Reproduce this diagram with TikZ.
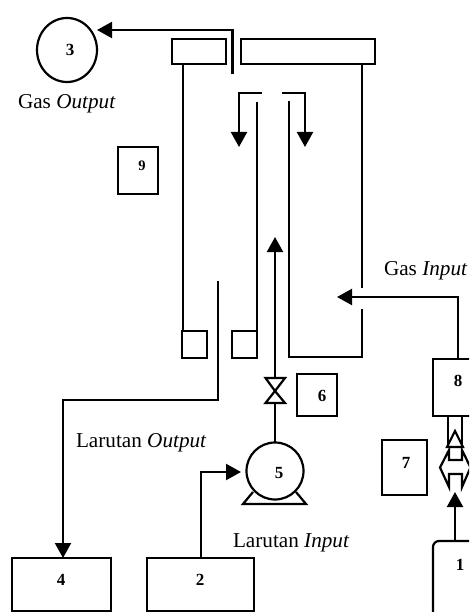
\documentclass[tikz,border=0pt]{standalone}
\usepackage{fontspec}
\setmainfont{Liberation Serif}
\usetikzlibrary{arrows.meta,shapes.geometric,calc}
\tikzset{
  every node/.style={outer sep=0pt,inner sep=0pt},
  ln/.style={line width=2.2pt,line cap=butt,line join=miter},
  arw/.style={ln,-{Triangle[width=16pt,length=15pt]}},
  boxn/.style={draw,line width=2.2pt,rectangle},
  num/.style={font=\fontsize{17}{19}\selectfont\bfseries},
  smallnum/.style={font=\fontsize{14.5}{17}\selectfont\bfseries},
  lab/.style={font=\fontsize{21.2}{24}\selectfont,anchor=base west},
}
\begin{document}
\begin{tikzpicture}[x=1pt,y=-1pt]
\clip (0,0) rectangle (469,612);
\fill[white] (0,0) rectangle (469,612);
% column top
\node[boxn,minimum width=54pt,minimum height=25pt] (capL) at (199,51.5) {};
\node[boxn,minimum width=134pt,minimum height=25pt] (capR) at (308,51.5) {};
% lower seals
\node[boxn,minimum width=25pt,minimum height=27pt] (sealL) at (194.5,344.5) {};
\node[boxn,minimum width=25pt,minimum height=27pt] (sealR) at (244.5,344.5) {};
% walls
\draw[ln] (183,64) -- (183,331);
\draw[ln] (362,64) -- (362,288);
\draw[ln] (362,309) -- (362,357) -- (289,357) -- (289,101);
\draw[ln] (257,102) -- (257,331);
% gas output
\node[draw,line width=2.2pt,ellipse,minimum width=60pt,minimum height=64pt] (n3) at (67,50) {};
\node[num] (t3) at (70,50) {3};
\coordinate (gasEnd) at (232.5,74);
\coordinate (gasTip) at (97,30);
\draw[arw] (gasEnd) -- (gasEnd |- gasTip) -- (gasTip);
% inner down arrows
\coordinate (dLs) at (262,93);
\coordinate (dLc) at (239,93);
\coordinate (dLt) at (239,147);
\coordinate (dRs) at (282,93);
\coordinate (dRc) at (305,93);
\coordinate (dRt) at (305,147);
\draw[arw] (dLs) -- (dLc) -- (dLt);
\draw[arw] (dRs) -- (dRc) -- (dRt);
% box 9
\node[boxn,minimum width=40pt,minimum height=47pt] (b9) at (138,170.5) {};
\node[smallnum] (t9) at (142,166) {9};
% liquid output
\node[boxn,minimum width=99pt,minimum height=53pt] (b4) at (61.5,584.5) {};
\node[num] (t4) at (61,580) {4};
\coordinate (liqS) at (218,281);
\coordinate (liqC) at (218,400);
\coordinate (liqD) at (63,400);
\draw[arw] (liqS) -- (liqC) -- (liqD) -- (liqD |- b4.north);
% pump
\node[boxn,minimum width=107pt,minimum height=53pt] (b2) at (200.5,584.5) {};
\node[num] (t2) at (200,580) {2};
\node[draw,line width=2.2pt,circle,minimum size=57pt] (n5) at (275,471) {};
\node[num] (t5) at (279,473) {5};
\coordinate (fL) at (253,492);
\coordinate (fR) at (296,492);
\draw[ln] (fL) -- (243,504) -- (306,504) -- (fR);
\coordinate (pIn) at (241,472);
\draw[arw] (b2.north -| 201,0) -- (201,472) -- (pIn);
% valve
\coordinate (vT) at (275,378);
\coordinate (vM) at (275,391);
\coordinate (vB) at (275,403);
\coordinate (vTip) at (275,237);
\draw[ln] (265.5,378) -- (285,378) -- (vM) -- (265.5,403) -- (285,403) -- (vM) -- cycle;
\draw[ln] (n5.north) -- (vB);
\draw[arw] (vT) -- (vTip);
\node[boxn,minimum width=40pt,minimum height=42pt] (b6) at (317,395) {};
\node[num] (t6) at (322,396) {6};
% gas input
\node[boxn,minimum width=56pt,minimum height=57pt] (b8) at (461,387.5) {};
\node[num] (t8) at (458,381) {8};
\coordinate (gInC) at (458,297);
\coordinate (gInT) at (337,297);
\draw[arw] (b8.north -| gInC) -- (gInC) -- (gInT);
% regulator
\node[boxn,minimum width=14pt,minimum height=31pt] (reg) at (455,431.5) {};
\draw[ln] (455,431) -- (463,447) -- (447,447) -- cycle;
\draw[line width=2.2pt] (440,467.5) -- (449,450) -- (449,460) -- (462,460) -- (462,450) -- (470.5,467.5) -- (462,487) -- (462,474) -- (449,474) -- (449,487) -- cycle;
\node[boxn,minimum width=45pt,minimum height=55pt] (b7) at (404.5,467.5) {};
\node[num] (t7) at (406,463) {7};
% cylinder
\node[draw,line width=2.2pt,rectangle,rounded corners=6pt,minimum width=56pt,minimum height=100pt] (b1) at (461,591) {};
\node[num] (t1) at (460,565) {1};
\coordinate (cylTip) at (455,492);
\draw[arw] (b1.north -| cylTip) -- (cylTip);
% labels
\node[lab] (lgo) at (18,109) {Gas \textit{Output}};
\node[lab] (lgi) at (384,275) {Gas \textit{Input}};
\node[lab] (llo) at (76,447) {Larutan \textit{Output}};
\node[lab] (lli) at (233,547) {Larutan \textit{Input}};
\end{tikzpicture}
\end{document}
